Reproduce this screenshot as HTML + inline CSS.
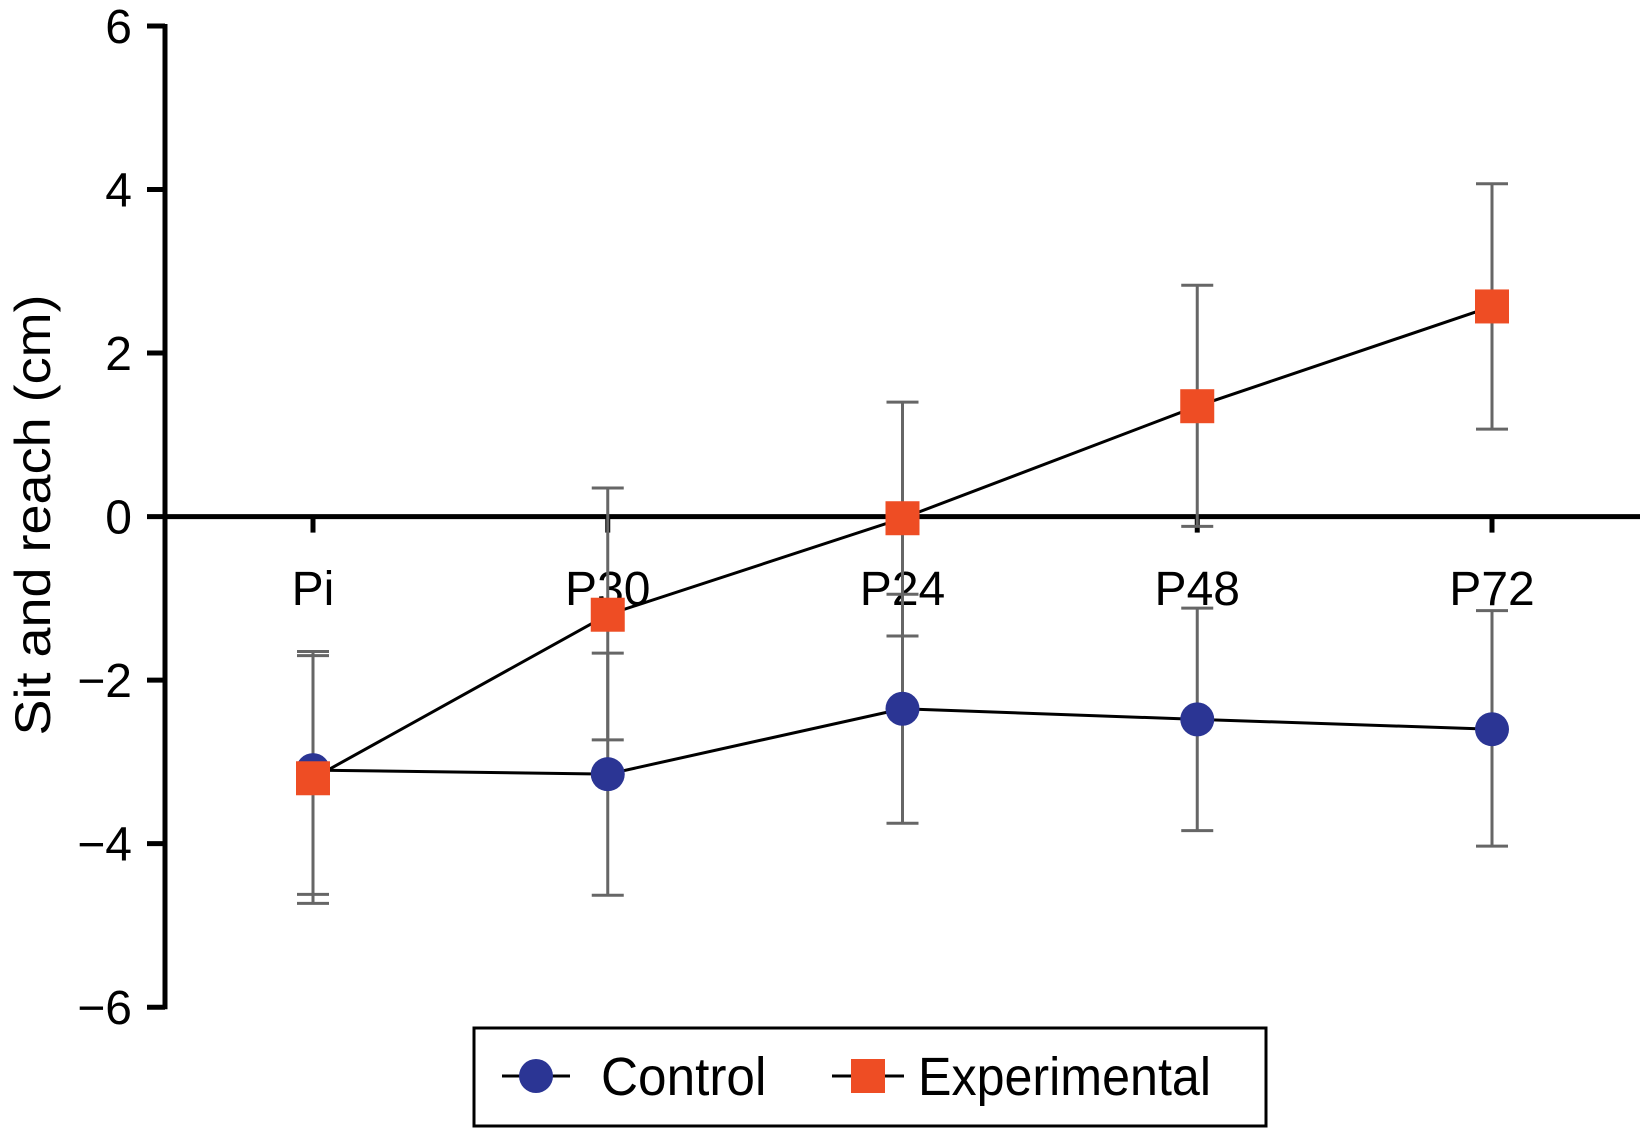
<!DOCTYPE html>
<html><head><meta charset="utf-8"><style>
html,body{margin:0;padding:0;background:#fff;}
svg{display:block;font-family:"Liberation Sans",sans-serif;}
</style></head><body>
<svg id="chart" width="1645" height="1129" viewBox="0 0 1645 1129"></svg>
<script>
const categories = ["Pi","P30","P24","P48","P72"];
const controlMean = [-3.1,-3.15,-2.35,-2.48,-2.6];
const controlLow = [-4.73,-4.63,-3.75,-3.84,-4.03];
const controlHigh = [-1.65,-1.67,-0.95,-1.12,-1.15];
const expMean = [-3.2,-1.2,-0.02,1.35,2.57];
const expLow = [-4.62,-2.73,-1.46,-0.12,1.07];
const expHigh = [-1.7,0.35,1.4,2.83,4.07];
const yTicks = [6,4,2,0,-2,-4,-6];
const yTickLabels = ["6","4","2","0","\u22122","\u22124","\u22126"];

const NS="http://www.w3.org/2000/svg";
const svg=document.getElementById('chart');
function yS(v){return 516.6 - v*81.77;}
function xS(i){return 313 + i*294.75;}
function mk(t,a,p){const e=document.createElementNS(NS,t);for(const k in a)e.setAttribute(k,a[k]);(p||svg).appendChild(e);return e;}

let ax=mk('line',{x1:165,y1:yS(6)-2,x2:165,y2:yS(-6)+2,stroke:'#000','stroke-width':5});


yTicks.forEach((v,i)=>{
  const t=mk('line',{x1:147,y1:yS(v),x2:165,y2:yS(v),stroke:'#000','stroke-width':5});
  
  
  const l=mk('text',{x:132,y:yS(v)+17,'text-anchor':'end','font-size':48});
  l.textContent=yTickLabels[i];
  
  
});
let zl=mk('line',{x1:165,y1:yS(0),x2:1640,y2:yS(0),stroke:'#000','stroke-width':5});


categories.forEach((c,i)=>{
  const t=mk('line',{x1:xS(i),y1:yS(0),x2:xS(i),y2:yS(0)+16,stroke:'#000','stroke-width':5});
  
  
  const l=mk('text',{x:xS(i),y:605,'text-anchor':'middle','font-size':48});
  l.textContent=c;
  
  
});
let yt=mk('text',{x:0,y:0,'text-anchor':'middle','font-size':54,transform:'translate(50,515) rotate(-90) scale(1,0.92)'});
yt.textContent='Sit and reach (cm)';



function errs(low,high){
  categories.forEach((c,i)=>{
    const x=xS(i);
    const g=mk('g',{stroke:'#666','stroke-width':3});
    
    
    mk('line',{x1:x,y1:yS(low[i]),x2:x,y2:yS(high[i])},g);
    mk('line',{x1:x-16,y1:yS(low[i]),x2:x+16,y2:yS(low[i])},g);
    mk('line',{x1:x-16,y1:yS(high[i]),x2:x+16,y2:yS(high[i])},g);
  });
}
errs(controlLow,controlHigh);
errs(expLow,expHigh);
function line(m,name){
  const p=mk('polyline',{points:m.map((v,i)=>xS(i)+','+yS(v)).join(' '),fill:'none',stroke:'#000','stroke-width':3});
  
  
}
line(controlMean,'control-line');
line(expMean,'experimental-line');
controlMean.forEach((v,i)=>{
  const c=mk('ellipse',{cx:xS(i),cy:yS(v),rx:17,ry:17,fill:'#2b3594'});
  
  
});
expMean.forEach((v,i)=>{
  const r=mk('rect',{x:xS(i)-17,y:yS(v)-17,width:34,height:34,fill:'#ee4d24'});
  
  
});
const lg=mk('g',{});


mk('rect',{x:474,y:1028,width:792,height:98,fill:'#fff',stroke:'#000','stroke-width':3},lg);
mk('line',{x1:502,y1:1076,x2:570,y2:1076,stroke:'#000','stroke-width':3},lg);
let lc=mk('ellipse',{cx:536,cy:1076,rx:17,ry:17,fill:'#2b3594'},lg);


let t1=mk('text',{x:0,y:0,'font-size':54,transform:'translate(601,1095) scale(0.95,1)'},lg);
t1.textContent='Control';


mk('line',{x1:832,y1:1076,x2:904,y2:1076,stroke:'#000','stroke-width':3},lg);
let le=mk('rect',{x:851,y:1059,width:34,height:34,fill:'#ee4d24'},lg);


let t2=mk('text',{x:0,y:0,'font-size':54,transform:'translate(918,1095) scale(0.93,1)'},lg);
t2.textContent='Experimental';


</script>
</body></html>
